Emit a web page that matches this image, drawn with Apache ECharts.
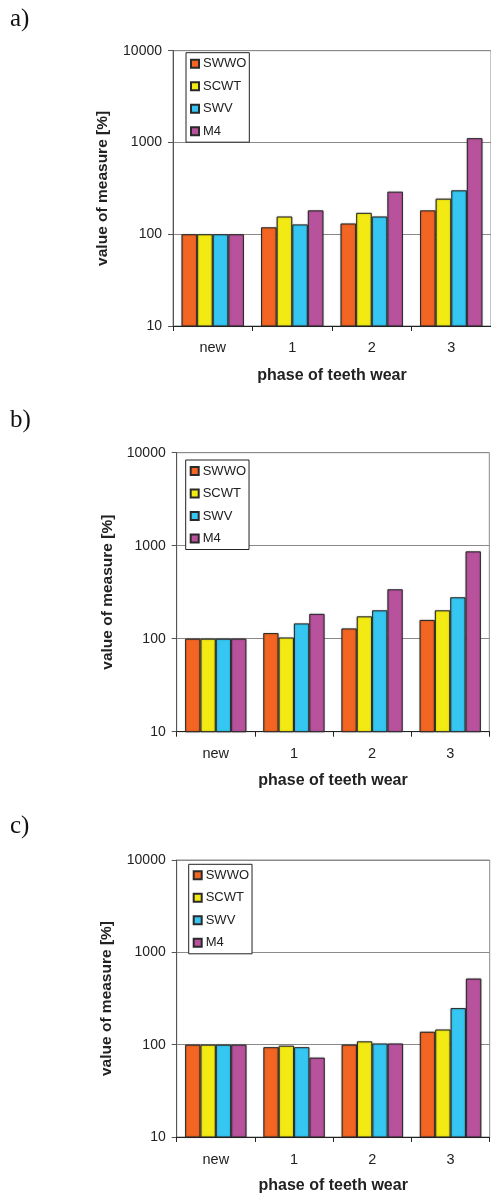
<!DOCTYPE html>
<html>
<head>
<meta charset="utf-8">
<title>Measures vs. phase of teeth wear</title>
<script src="https://cdn.jsdelivr.net/npm/echarts@6/dist/echarts.min.js"></script>
<style>
  html, body { margin: 0; padding: 0; background: #fff; }
  #chart { width: 491px; height: 1195px; }
</style>
</head>
<body>
<div id="chart"></div>
<script>
// Categories and series names
const phases = ['new', '1', '2', '3'];
const measureNames = ['SWWO', 'SCWT', 'SWV', 'M4'];
const axisMin = 10;
const axisMax = 10000;

// Panel a)
const swwoA = [100, 119, 131, 182];
const scwtA = [100, 156, 171, 244];
const swvA  = [100, 128, 156, 301];
const m4A   = [100, 182, 291, 1115];

// Panel b)
const swwoB = [100, 115, 129, 159];
const scwtB = [100, 103, 174, 202];
const swvB  = [100, 146, 202, 279];
const m4B   = [100, 185, 340, 869];

// Panel c)
const swwoC = [100, 94, 100, 138];
const scwtC = [100, 97.5, 108.6, 146];
const swvC  = [100, 94, 103, 249];
const m4C   = [100, 72.4, 103, 520];

const panelLetters = ['a)', 'b)', 'c)'];

const colors = ['#F26522', '#F2EA12', '#35C6F1', '#B8529D'];
const sansFont = '"Liberation Sans", Arial, sans-serif';

// Per-panel layout (plot rectangle, legend box, letter)
const panels = [
  { data: [swwoA, scwtA, swvA, m4A], grid: { left: 173, top: 50.7, width: 320, height: 275.3 },
    legend: { left: 186, top: 52.7 }, letterTop: 6.5, yGap: 62, cat: 14, xGap: 42 },
  { data: [swwoB, scwtB, swvB, m4B], grid: { left: 176.7, top: 452.7, width: 312.6, height: 279 },
    legend: { left: 185.7, top: 460 }, letterTop: 407.5, yGap: 60, cat: 15, xGap: 41 },
  { data: [swwoC, scwtC, swvC, m4C], grid: { left: 176.7, top: 860, width: 313, height: 277.7 },
    legend: { left: 188.7, top: 864.3 }, letterTop: 813.5, yGap: 62, cat: 15, xGap: 41 }
];

const grids = [], xAxes = [], yAxes = [], legends = [], series = [], graphics = [];

panels.forEach(function (p, i) {
  grids.push(Object.assign({
    show: true, borderColor: '#8a8a8a', borderWidth: 1, backgroundColor: 'transparent'
  }, p.grid));

  xAxes.push({
    type: 'category', gridIndex: i, data: phases, boundaryGap: true,
    axisLine: { lineStyle: { color: '#222', width: 1 } },
    axisTick: { show: true, length: 5, inside: false, lineStyle: { color: '#222' } },
    axisLabel: { margin: p.cat, fontSize: 14.5, color: '#222', fontFamily: sansFont },
    name: 'phase of teeth wear', nameLocation: 'middle', nameGap: p.xGap,
    nameTextStyle: { fontSize: 16, fontWeight: 'bold', color: '#222', fontFamily: sansFont }
  });

  yAxes.push({
    type: 'log', logBase: 10, gridIndex: i, min: axisMin, max: axisMax,
    axisLine: { show: true, lineStyle: { color: '#555', width: 1 } },
    axisTick: { show: true, length: 5, lineStyle: { color: '#555' } },
    minorTick: { show: false },
    splitLine: { show: true, lineStyle: { color: '#8a8a8a', width: 1 } },
    axisLabel: {
      margin: 11, fontSize: 14, color: '#222', fontFamily: sansFont,
      formatter: function (v) { return String(Math.round(v)); }
    },
    name: 'value of measure [%]', nameLocation: 'middle', nameGap: p.yGap, nameRotate: 90,
    nameTextStyle: { fontSize: 15.5, fontWeight: 'bold', color: '#222', fontFamily: sansFont }
  });

  legends.push({
    data: measureNames, orient: 'vertical', left: p.legend.left, top: p.legend.top,
    itemWidth: 8, itemHeight: 8, itemGap: 8.5, icon: 'rect',
    padding: [4, 3, 4, 4], borderColor: '#222', borderWidth: 1, backgroundColor: '#fff',
    selectedMode: false,
    textStyle: { fontSize: 13, lineHeight: 14, color: '#222', fontFamily: sansFont, padding: [0, 0, 0, -1] }
  });

  p.data.forEach(function (vals, k) {
    series.push({
      type: 'bar', name: measureNames[k], xAxisIndex: i, yAxisIndex: i,
      data: vals, barGap: '0%', barCategoryGap: '21.5%', clip: true,
      itemStyle: {
        color: colors[k], borderColor: '#2a2a2a', borderWidth: 1,
        shadowColor: 'rgba(0,0,0,0.35)', shadowBlur: 1.5
      },
      emphasis: { disabled: true }
    });
  });

  graphics.push({
    type: 'text', left: 10, top: p.letterTop,
    style: { text: panelLetters[i], font: '25px "Liberation Serif", "Times New Roman", serif', fill: '#111' }
  });
});

const chart = echarts.init(document.getElementById('chart'), null, { renderer: 'canvas' });
chart.setOption({
  animation: false,
  backgroundColor: '#fff',
  color: colors,
  grid: grids,
  xAxis: xAxes,
  yAxis: yAxes,
  legend: legends,
  series: series,
  graphic: graphics
});
</script>
</body>
</html>
